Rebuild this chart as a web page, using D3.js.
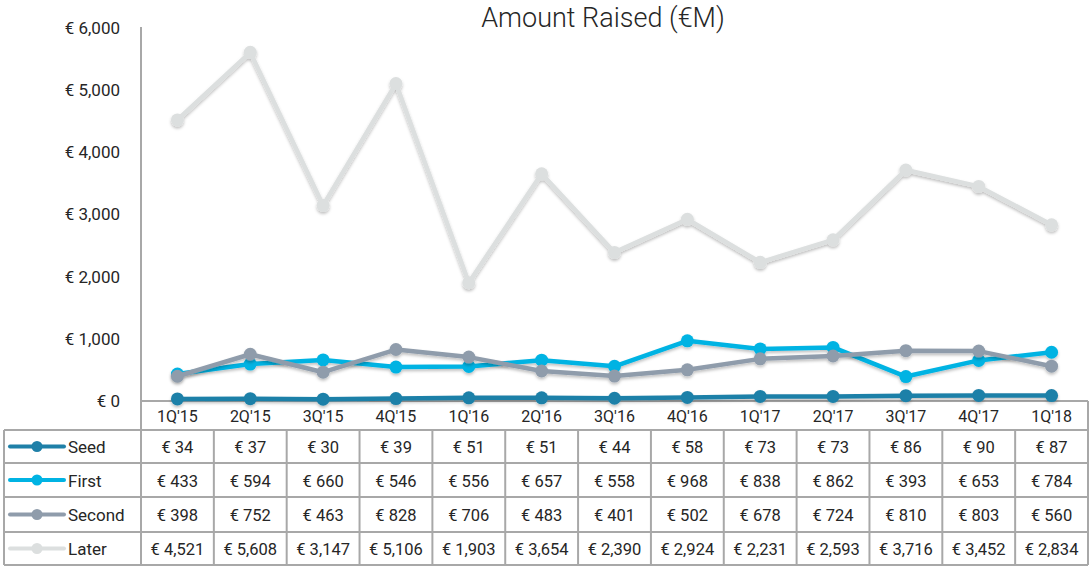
<!DOCTYPE html>
<html>
<head>
<meta charset="utf-8">
<script src="https://cdn.jsdelivr.net/npm/d3@7"></script>
<style>
  body { margin: 0; background: #fff; }
  text { font-family: Roboto, "DejaVu Sans", sans-serif; fill: #262626; }
</style>
</head>
<body>
<svg id="chart" width="1090" height="567"></svg>
<script>
// quarters and series (EUR millions)
var quarters = ["1Q'15","2Q'15","3Q'15","4Q'15","1Q'16","2Q'16","3Q'16","4Q'16","1Q'17","2Q'17","3Q'17","4Q'17","1Q'18"];
var seed   = [34, 37, 30, 39, 51, 51, 44, 58, 73, 73, 86, 90, 87];
var first  = [433, 594, 660, 546, 556, 657, 558, 968, 838, 862, 393, 653, 784];
var second = [398, 752, 463, 828, 706, 483, 401, 502, 678, 724, 810, 803, 560];
var later  = [4521, 5608, 3147, 5106, 1903, 3654, 2390, 2924, 2231, 2593, 3716, 3452, 2834];
var seriesNames = ["Seed", "First", "Second", "Later"];
var yTicks = [0, 1000, 2000, 3000, 4000, 5000, 6000];

var colors = ["#1f80a8", "#00b3e3", "#8f9cab", "#dcdfdf"];
var allSeries = [seed, first, second, later];

var svg = d3.select("#chart");

var left = 141, right = 1088;
var yTop = 28, yBottom = 401;
var rowTops = [401, 430, 463, 497, 532, 565];
var gridColor = "#a8a8a8";

var x = d3.scaleBand().domain(quarters).range([left, right]);
var y = d3.scaleLinear().domain([0, 6000]).range([yBottom, yTop]);

// drop shadow like the spreadsheet lines
var defs = svg.append("defs");
var f = defs.append("filter").attr("id", "shadow").attr("x", "-10%").attr("y", "-10%").attr("width", "120%").attr("height", "130%");
f.append("feDropShadow").attr("dx", 0).attr("dy", 2).attr("stdDeviation", 1.5).attr("flood-color", "#000").attr("flood-opacity", 0.25);

// title
svg.append("text")
  .attr("x", 603).attr("y", 27)
  .attr("text-anchor", "middle")
  .style("font-size", "27px").style("font-weight", 300)
  .text("Amount Raised (€M)");

// y axis labels
var fmt = d3.format(",");
svg.append("g").selectAll("text")
  .data(yTicks).enter().append("text")
  .attr("x", 120)
  .attr("y", function(d) { return y(d); })
  .attr("dy", "0.35em")
  .attr("text-anchor", "end")
  .style("font-size", "17px")
  .text(function(d) { return "€ " + fmt(d); });

// table grid
var grid = svg.append("g").attr("stroke", gridColor).attr("stroke-width", 2).attr("fill", "none");
grid.append("line").attr("x1", left).attr("x2", left).attr("y1", yTop - 1).attr("y2", rowTops[5]);
grid.append("line").attr("x1", right).attr("x2", right).attr("y1", rowTops[0]).attr("y2", rowTops[5]);
grid.append("line").attr("x1", 4).attr("x2", 4).attr("y1", rowTops[1]).attr("y2", rowTops[5]);
grid.append("line").attr("x1", left).attr("x2", right).attr("y1", rowTops[0]).attr("y2", rowTops[0]);
rowTops.slice(1).forEach(function(r) {
  grid.append("line").attr("x1", 4).attr("x2", right).attr("y1", r).attr("y2", r);
});
quarters.forEach(function(q, i) {
  if (i == 0) return;
  grid.append("line").attr("x1", x(q)).attr("x2", x(q)).attr("y1", rowTops[1]).attr("y2", rowTops[5]);
});

// category labels
svg.append("g").selectAll("text")
  .data(quarters).enter().append("text")
  .attr("x", function(d) { return x(d) + x.bandwidth() / 2; })
  .attr("y", (rowTops[0] + rowTops[1]) / 2 + 1)
  .attr("dy", "0.35em")
  .attr("text-anchor", "middle")
  .style("font-size", "16px")
  .text(function(d) { return d; });

// value cells + legend keys
allSeries.forEach(function(vals, s) {
  var cy = (rowTops[s + 1] + rowTops[s + 2]) / 2 + 1;
  var row = svg.append("g");
  row.selectAll("text")
    .data(vals).enter().append("text")
    .attr("x", function(d, i) { return x(quarters[i]) + x.bandwidth() / 2; })
    .attr("y", cy)
    .attr("dy", "0.35em")
    .attr("text-anchor", "middle")
    .style("font-size", "16.5px")
    .text(function(d) { return "€ " + fmt(d); });

  row.append("line")
    .attr("x1", 10).attr("x2", 64).attr("y1", cy - 1).attr("y2", cy - 1)
    .attr("stroke", colors[s]).attr("stroke-width", 4).attr("stroke-linecap", "round");
  row.append("circle").attr("cx", 37).attr("cy", cy - 1).attr("r", 5.5).attr("fill", colors[s]);
  row.append("text")
    .attr("x", 68).attr("y", cy)
    .attr("dy", "0.35em")
    .style("font-size", "17px")
    .text(seriesNames[s]);
});

// lines
var line = d3.line()
  .x(function(d, i) { return x(quarters[i]) + x.bandwidth() / 2; })
  .y(function(d) { return y(d); });

allSeries.forEach(function(vals, s) {
  var g = svg.append("g").attr("filter", "url(#shadow)");
  g.append("path")
    .datum(vals)
    .attr("d", line)
    .attr("fill", "none")
    .attr("stroke", colors[s])
    .attr("stroke-width", 4.5)
    .attr("stroke-linejoin", "round");
  g.selectAll("circle")
    .data(vals).enter().append("circle")
    .attr("cx", function(d, i) { return x(quarters[i]) + x.bandwidth() / 2; })
    .attr("cy", function(d) { return y(d); })
    .attr("r", 6.5)
    .attr("fill", colors[s]);
});
</script>
</body>
</html>
